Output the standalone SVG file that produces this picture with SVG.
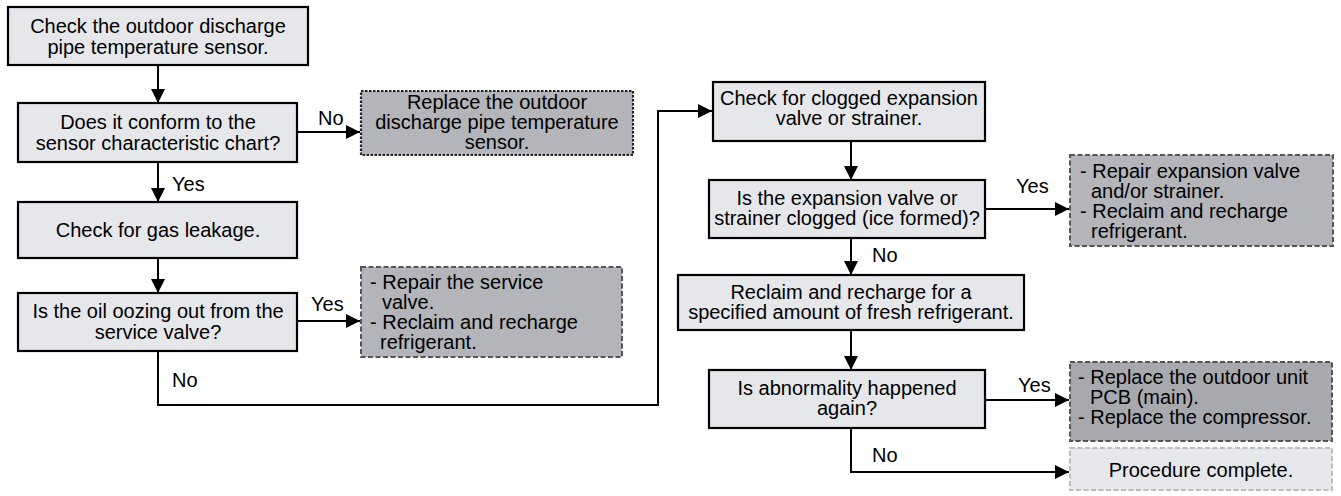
<svg xmlns="http://www.w3.org/2000/svg" width="1341" height="496" viewBox="0 0 1341 496">
<defs>
<marker id="ah" markerWidth="16" markerHeight="16" refX="14" refY="8" orient="auto" markerUnits="userSpaceOnUse">
<path d="M0,1 L14,8 L0,15 Z" fill="#000"/>
</marker>
<style>
text{font-family:"Liberation Sans",Arial,sans-serif;font-size:20px;fill:#000}
.c{text-anchor:middle}
.box{fill:#e6e7eb;stroke:#000;stroke-width:2.2}
.act{fill:#b3b5ba;stroke:#555;stroke-width:2;stroke-dasharray:5 2.5}
.dot{fill:#b3b5ba;stroke:#222;stroke-width:2.2;stroke-dasharray:2.5 1.5}
.act2{fill:#a7a9ae;stroke:#555;stroke-width:2;stroke-dasharray:5 2.5}
.end{fill:#e6e7ea;stroke:#bdbdbd;stroke-width:2;stroke-dasharray:5 2.5}
.ln{fill:none;stroke:#000;stroke-width:2;marker-end:url(#ah)}
</style>
</defs>
<rect width="1341" height="496" fill="#fff"/>
<g id="connectors">
<line class="ln" x1="158" y1="65" x2="158" y2="103"/>
<line class="ln" x1="297" y1="132" x2="360" y2="132"/>
<line class="ln" x1="158" y1="162" x2="158" y2="202"/>
<line class="ln" x1="158" y1="258" x2="158" y2="293"/>
<line class="ln" x1="297" y1="321" x2="360" y2="321"/>
<polyline class="ln" points="158,351 158,405 658,405 658,111 712,111"/>
<line class="ln" x1="851" y1="141" x2="851" y2="180"/>
<line class="ln" x1="985" y1="209" x2="1069" y2="209"/>
<line class="ln" x1="851" y1="238" x2="851" y2="275"/>
<line class="ln" x1="851" y1="330" x2="851" y2="370"/>
<line class="ln" x1="985" y1="400" x2="1069" y2="400"/>
<polyline class="ln" points="851,428 851,472 1069,472"/>
<text x="318" y="125">No</text>
<text x="172" y="191">Yes</text>
<text x="311" y="311">Yes</text>
<text x="172" y="387">No</text>
<text x="1016" y="193">Yes</text>
<text x="872" y="262">No</text>
<text x="1018" y="392">Yes</text>
<text x="872" y="462">No</text>
</g>
<g id="n1"><rect class="box" x="8" y="7" width="300" height="58"/>
<text class="c"><tspan x="158" y="33">Check the outdoor discharge</tspan><tspan x="158" y="54">pipe temperature sensor.</tspan></text></g>
<g id="n2"><rect class="box" x="18" y="103" width="279" height="59"/>
<text class="c"><tspan x="158" y="129">Does it conform to the</tspan><tspan x="158" y="150">sensor characteristic chart?</tspan></text></g>
<g id="n3"><rect class="dot" x="361" y="91" width="272" height="64"/>
<text class="c"><tspan x="497" y="109">Replace the outdoor</tspan><tspan x="497" y="129">discharge pipe temperature</tspan><tspan x="497" y="149">sensor.</tspan></text></g>
<g id="n4"><rect class="box" x="18" y="202" width="279" height="56"/>
<text class="c" x="158" y="237">Check for gas leakage.</text></g>
<g id="n5"><rect class="box" x="18" y="293" width="279" height="58"/>
<text class="c"><tspan x="158" y="318">Is the oil oozing out from the</tspan><tspan x="158" y="339">service valve?</tspan></text></g>
<g id="n6"><rect class="act" x="361" y="267" width="261" height="90"/>
<text><tspan x="370" y="289">- Repair the service</tspan><tspan x="382" y="309">valve.</tspan><tspan x="370" y="329">- Reclaim and recharge</tspan><tspan x="380" y="349">refrigerant.</tspan></text></g>
<g id="n7"><rect class="box" x="713" y="82" width="272" height="59"/>
<text class="c"><tspan x="849" y="105">Check for clogged expansion</tspan><tspan x="849" y="125">valve or strainer.</tspan></text></g>
<g id="n8"><rect class="box" x="709" y="180" width="276" height="58"/>
<text class="c"><tspan x="847" y="205">Is the expansion valve or</tspan><tspan x="847" y="225">strainer clogged (ice formed)?</tspan></text></g>
<g id="n9"><rect class="act" x="1070" y="155" width="263" height="91"/>
<text><tspan x="1080" y="178">- Repair expansion valve</tspan><tspan x="1091" y="198">and/or strainer.</tspan><tspan x="1080" y="218">- Reclaim and recharge</tspan><tspan x="1091" y="238">refrigerant.</tspan></text></g>
<g id="n10"><rect class="box" x="678" y="275" width="346" height="55"/>
<text class="c"><tspan x="851" y="299">Reclaim and recharge for a</tspan><tspan x="851" y="319">specified amount of fresh refrigerant.</tspan></text></g>
<g id="n11"><rect class="box" x="709" y="370" width="276" height="58"/>
<text class="c"><tspan x="847" y="395">Is abnormality happened</tspan><tspan x="847" y="415">again?</tspan></text></g>
<g id="n12"><rect class="act2" x="1070" y="362" width="262" height="79"/>
<text><tspan x="1078" y="384">- Replace the outdoor unit</tspan><tspan x="1090" y="404">PCB (main).</tspan><tspan x="1078" y="424">- Replace the compressor.</tspan></text></g>
<g id="n13"><rect class="end" x="1070" y="448" width="262" height="42"/>
<text class="c" x="1201" y="477">Procedure complete.</text></g>
</svg>
